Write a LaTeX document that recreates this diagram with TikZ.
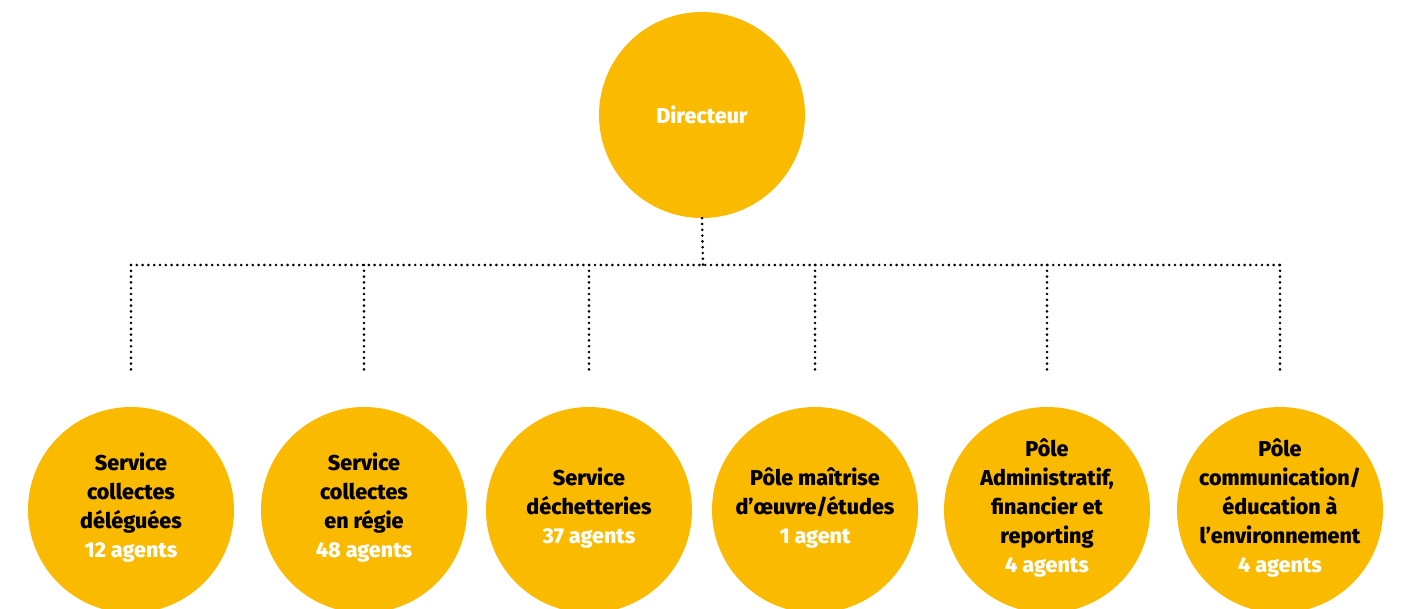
\documentclass[tikz,border=0pt]{standalone}
\usepackage{fontspec}
\setmainfont{Fira Sans}[BoldFont={Fira Sans ExtraBold}]
\definecolor{gold}{RGB}{250,186,0}
\begin{document}
\begin{tikzpicture}[x=1pt,y=-1pt,
  bubble/.style={circle,fill=gold,draw=none,minimum size=206pt,inner sep=0pt},
  label/.style={align=center,font=\bfseries\fontsize{21.5}{29}\selectfont,text=black},
  dots/.style={line width=2.9pt,line cap=round,dash pattern=on 0pt off 5.8pt}]
\useasboundingbox (0,0) rectangle (1404,608);
\node[bubble] (dir) at (702,115) {};
\node[label,text=white] (dirt) at (702,115) {Directeur};
\foreach \i/\x in {1/131,2/364,3/589,4/815,5/1047,6/1280}{
  \node[bubble] (c\i) at (\x,510) {};
  \coordinate (h\i) at (\x,265);
  \coordinate (e\i) at (\x,370);
}
\coordinate (j) at (703,265);
\node[label] (t1) at (131,508) {Service\\collectes\\déléguées\\\textcolor{white}{12 agents}};
\node[label] (t2) at (364,508) {Service\\collectes\\en régie\\\textcolor{white}{48 agents}};
\node[label] (t3) at (589,508) {Service\\déchetteries\\\textcolor{white}{37 agents}};
\node[label] (t4) at (815,508) {Pôle maîtrise\\d’œuvre/études\\\textcolor{white}{1 agent}};
\node[label] (t5) at (1047,508) {Pôle\\Administratif,\\financier et\\reporting\\\textcolor{white}{4 agents}};
\node[label] (t6) at (1280,508) {Pôle\\communication/\\éducation à\\l’environnement\\\textcolor{white}{4 agents}};
\draw[dots] (dir.south) -- (j);
\draw[dots] (h1) -- (h6);
\foreach \i in {1,...,6}{\draw[dots] (h\i) -- (e\i);}
\end{tikzpicture}
\end{document}
